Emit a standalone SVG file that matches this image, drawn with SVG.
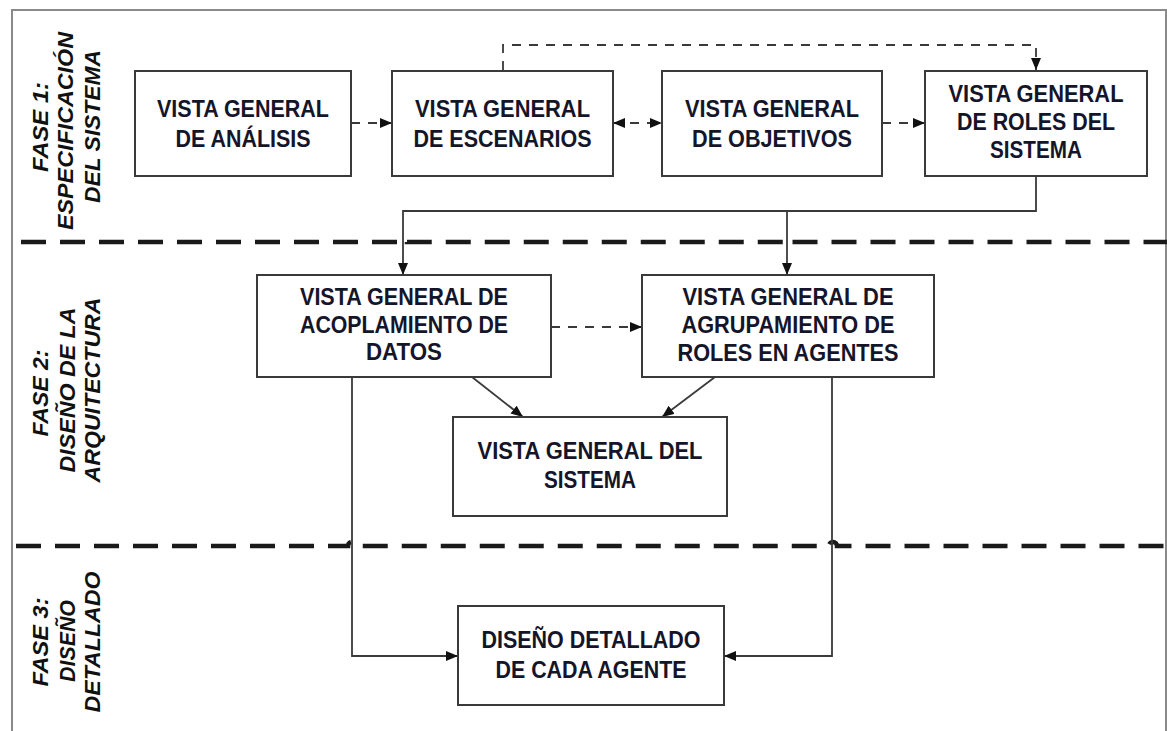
<svg xmlns="http://www.w3.org/2000/svg" width="1167" height="731" viewBox="0 0 1167 731">
<defs>
<marker id="ah" viewBox="0 0 12 10" markerWidth="12" markerHeight="10" refX="12" refY="5" orient="auto-start-reverse" markerUnits="userSpaceOnUse">
<path d="M0,0 L12,5 L0,10 z" fill="#111"/>
</marker>
<style>
.frame{fill:none;stroke:#8a8a8a;stroke-width:2}
.sep{fill:none;stroke:#1a1a1a;stroke-width:4.5;stroke-dasharray:25 14}
.box{fill:#fff;stroke:#3a3a3a;stroke-width:2}
.t{font-family:"Liberation Sans",Arial,sans-serif;font-weight:bold;font-size:23px;fill:#15152a;text-anchor:middle}
.ph{font-family:"Liberation Sans",Arial,sans-serif;font-weight:bold;font-style:italic;font-size:22px;fill:#111;text-anchor:middle}
.c{fill:none;stroke:#3a3a3a;stroke-width:1.8}
.d{fill:none;stroke:#3a3a3a;stroke-width:1.8;stroke-dasharray:9 8}
</style>
</defs>
<rect class="frame" x="12" y="10" width="1154" height="740"/>
<g id="separators">
<path class="sep" d="M21 242 H399 A4 4 0 0 1 407 242 H783 A4 4 0 0 1 791 242 H1167"/>
<path class="sep" d="M16 546 H348 A4 4 0 0 1 356 546 H829 A4 4 0 0 1 837 546 H1167"/>
</g>
<g id="phase-labels">
<text class="ph" transform="translate(48,127) rotate(-90)" textLength="90" lengthAdjust="spacingAndGlyphs">FASE 1:</text>
<text class="ph" transform="translate(73,131) rotate(-90)" textLength="198" lengthAdjust="spacingAndGlyphs">ESPECIFICACIÓN</text>
<text class="ph" transform="translate(100,126.5) rotate(-90)" textLength="153" lengthAdjust="spacingAndGlyphs">DEL SISTEMA</text>
<text class="ph" transform="translate(48,393) rotate(-90)" textLength="87" lengthAdjust="spacingAndGlyphs">FASE 2:</text>
<text class="ph" transform="translate(75,390) rotate(-90)" textLength="165" lengthAdjust="spacingAndGlyphs">DISEÑO DE LA</text>
<text class="ph" transform="translate(100,390) rotate(-90)" textLength="185" lengthAdjust="spacingAndGlyphs">ARQUITECTURA</text>
<text class="ph" transform="translate(48,642) rotate(-90)" textLength="89" lengthAdjust="spacingAndGlyphs">FASE 3:</text>
<text class="ph" transform="translate(75,641) rotate(-90)" textLength="82" lengthAdjust="spacingAndGlyphs">DISEÑO</text>
<text class="ph" transform="translate(100,642) rotate(-90)" textLength="141" lengthAdjust="spacingAndGlyphs">DETALLADO</text>
</g>
<g id="connectors">
<path class="d" d="M503 70 V45 H1036 V70" marker-end="url(#ah)"/>
<path class="d" d="M351 123 H392" marker-end="url(#ah)"/>
<path class="d" d="M613 123 H662" marker-start="url(#ah)" marker-end="url(#ah)"/>
<path class="d" d="M882 123 H925" marker-end="url(#ah)"/>
<path class="c" d="M1036 176 V211 H403 V275" marker-end="url(#ah)"/>
<path class="c" d="M787 211 V275" marker-end="url(#ah)"/>
<path class="d" d="M551 327 H642" marker-end="url(#ah)"/>
<path class="c" d="M472 377 L523 417" marker-end="url(#ah)"/>
<path class="c" d="M715 377 L662 417" marker-end="url(#ah)"/>
<path class="c" d="M352 377 V656 H458" marker-end="url(#ah)"/>
<path class="c" d="M832 377 V656 H724" marker-end="url(#ah)"/>
</g>
<g id="n1">
<rect class="box" x="135" y="71" width="216" height="105"/>
<text class="t" x="243" y="117" textLength="172" lengthAdjust="spacingAndGlyphs">VISTA GENERAL</text>
<text class="t" x="243" y="147" textLength="135" lengthAdjust="spacingAndGlyphs">DE ANÁLISIS</text>
</g>
<g id="n2">
<rect class="box" x="392" y="71" width="221" height="105"/>
<text class="t" x="502.5" y="117" textLength="175" lengthAdjust="spacingAndGlyphs">VISTA GENERAL</text>
<text class="t" x="502.5" y="147" textLength="178" lengthAdjust="spacingAndGlyphs">DE ESCENARIOS</text>
</g>
<g id="n3">
<rect class="box" x="662" y="71" width="220" height="105"/>
<text class="t" x="772" y="117" textLength="174" lengthAdjust="spacingAndGlyphs">VISTA GENERAL</text>
<text class="t" x="772" y="147" textLength="160" lengthAdjust="spacingAndGlyphs">DE OBJETIVOS</text>
</g>
<g id="n4">
<rect class="box" x="925" y="71" width="222" height="105"/>
<text class="t" x="1036" y="102" textLength="175" lengthAdjust="spacingAndGlyphs">VISTA GENERAL</text>
<text class="t" x="1036" y="130" textLength="158" lengthAdjust="spacingAndGlyphs">DE ROLES DEL</text>
<text class="t" x="1036" y="158" textLength="92" lengthAdjust="spacingAndGlyphs">SISTEMA</text>
</g>
<g id="n5">
<rect class="box" x="257" y="275" width="294" height="102"/>
<text class="t" x="404" y="305" textLength="208" lengthAdjust="spacingAndGlyphs">VISTA GENERAL DE</text>
<text class="t" x="404" y="333" textLength="208" lengthAdjust="spacingAndGlyphs">ACOPLAMIENTO DE</text>
<text class="t" x="404" y="360" textLength="76" lengthAdjust="spacingAndGlyphs">DATOS</text>
</g>
<g id="n6">
<rect class="box" x="642" y="275" width="292" height="102"/>
<text class="t" x="788" y="305" textLength="211" lengthAdjust="spacingAndGlyphs">VISTA GENERAL DE</text>
<text class="t" x="788" y="333" textLength="213" lengthAdjust="spacingAndGlyphs">AGRUPAMIENTO DE</text>
<text class="t" x="788" y="361" textLength="221" lengthAdjust="spacingAndGlyphs">ROLES EN AGENTES</text>
</g>
<g id="n7">
<rect class="box" x="453" y="417" width="274" height="99"/>
<text class="t" x="590" y="459" textLength="225" lengthAdjust="spacingAndGlyphs">VISTA GENERAL DEL</text>
<text class="t" x="590" y="488" textLength="92" lengthAdjust="spacingAndGlyphs">SISTEMA</text>
</g>
<g id="n8">
<rect class="box" x="458" y="606" width="266" height="99"/>
<text class="t" x="591" y="648" textLength="219" lengthAdjust="spacingAndGlyphs">DISEÑO DETALLADO</text>
<text class="t" x="591" y="678" textLength="191" lengthAdjust="spacingAndGlyphs">DE CADA AGENTE</text>
</g>
</svg>
